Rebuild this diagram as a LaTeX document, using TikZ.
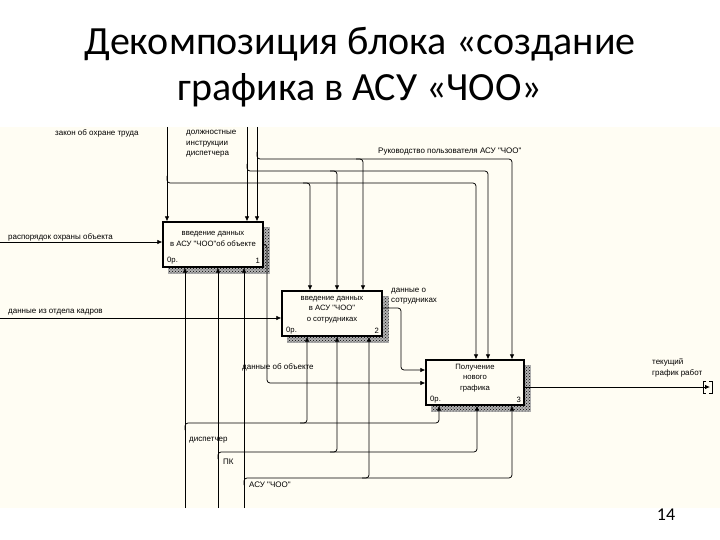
\documentclass[tikz,border=0pt]{standalone}
\usepackage{fontspec}
\setmainfont{Carlito}
\newfontfamily\lab{Liberation Sans}
\usetikzlibrary{arrows.meta,patterns,backgrounds}
\definecolor{cream}{RGB}{255,253,243}
\begin{document}
\begin{tikzpicture}[x=1pt,y=-1pt,
  box/.style={draw,line width=1.3pt,fill=cream,minimum width=100pt,minimum height=45pt,inner sep=0pt},
  conn/.style={line width=0.75pt,rounded corners=3pt,-{Latex[length=5pt,width=4.5pt]}},
  brk/.style={line width=0.7pt},
  lbl/.style={font=\fontsize{8}{10.5}\selectfont\lab,inner sep=0pt,anchor=west,align=left},
  btxt/.style={font=\fontsize{7.7}{10.5}\selectfont\lab,inner sep=0pt,align=center},
  shadfill/.style={fill=black!30},
  shad/.style={pattern=crosshatch dots,pattern color=black},
  ttl/.style={font=\fontsize{40}{44}\selectfont,inner sep=0pt,anchor=base},
]
\useasboundingbox (0,0) rectangle (720,540);

% boxes
\node[box] (b1) at (213,244.5) {};
\node[box] (b2) at (332,313.5) {};
\node[box,minimum width=98pt] (b3) at (475,382.5) {};

\begin{scope}[on background layer]
  \fill[white] (0,0) rectangle (720,540);
  \fill[cream] (0,127) rectangle (720,508);
  \foreach \b in {b1,b2,b3}{
    \fill[shadfill] ([shift={(6,6)}]\b.north west) rectangle ([shift={(6,6)}]\b.south east);
    \fill[shad] ([shift={(6,6)}]\b.north west) rectangle ([shift={(6,6)}]\b.south east);
  }
\end{scope}

% title
\node[ttl] (t1) at (360,55) {Декомпозиция блока «создание};
\node[ttl] (t2) at (360,101) {графика в АСУ «ЧОО»};
\node[font=\fontsize{18}{20}\selectfont,inner sep=0pt,anchor=base] (pg) at (666,520) {14};

% box texts
\node[btxt] (b1t) at (213,239) {введение данных\\в АСУ "ЧОО"об объекте};
\node[btxt,anchor=west] (b1a) at (167,261) {0р.};
\node[btxt,anchor=east] (b1n) at (260,261) {1};
\node[btxt] (b2t) at (332,309.5) {введение данных\\в АСУ "ЧОО"\\о сотрудниках};
\node[btxt,anchor=west] (b2a) at (286,331) {0р.};
\node[btxt,anchor=east] (b2n) at (379,331) {2};
\node[btxt] (b3t) at (475,378) {Получение\\нового\\графика};
\node[btxt,anchor=west] (b3a) at (430,400) {0р.};
\node[btxt,anchor=east] (b3n) at (521,400) {3};

% controls
\coordinate (cz) at (167,127);
\coordinate (cd) at (247,127);
\coordinate (cr) at (257,127);
\draw[conn] (cz) -- (cz |- b1.north);
\draw[conn] (cd) -- (cd |- b1.north);
\draw[conn] (cr) -- (cr |- b1.north);
\draw[conn] (167,176) -- (167,183) -- (476,183) -- (476,0 |- b3.north);
\draw[conn] (303,183) -- (310,183) -- (310,0 |- b2.north);
\draw[conn] (247,164) -- (247,171) -- (488,171) -- (488,0 |- b3.north);
\draw[conn] (330,171) -- (337,171) -- (337,0 |- b2.north);
\draw[conn] (257,152) -- (257,159) -- (512,159) -- (512,0 |- b3.north);
\draw[conn] (356,159) -- (363,159) -- (363,0 |- b2.north);

% inputs
\coordinate (ir) at (0,242);
\coordinate (ik) at (0,318);
\draw[conn] (ir) -- (ir -| b1.west);
\draw[conn] (ik) -- (ik -| b2.west);

% mechanisms
\coordinate (md) at (185,508);
\coordinate (mp) at (218,508);
\coordinate (ma) at (244,508);
\draw[conn] (md) -- (md |- b1.south);
\draw[conn] (mp) -- (mp |- b1.south);
\draw[conn] (ma) -- (ma |- b1.south);
\draw[conn] (185,430) -- (185,423) -- (439,423) -- (439,0 |- b3.south);
\draw[conn] (300,423) -- (307,423) -- (307,0 |- b2.south);
\draw[conn] (218,459) -- (218,452) -- (477,452) -- (477,0 |- b3.south);
\draw[conn] (330,452) -- (337,452) -- (337,0 |- b2.south);
\draw[conn] (244,485) -- (244,478) -- (512,478) -- (512,0 |- b3.south);
\draw[conn] (362,478) -- (369,478) -- (369,0 |- b2.south);

% outputs
\draw[conn] (b1.east) -- (267,244.5) -- (267,383) -- (b3.west |- 0,383);
\draw[conn] (b2.east |- 0,308) -- (401,308) -- (401,370) -- (b3.west |- 0,370);
\coordinate (out) at (710,387);
\draw[conn] (b3.east |- 0,387) -- (out);
\draw[brk] (706,381) -- (703,381) -- (703,393) -- (706,393);
\draw[brk] (709,381) -- (712,381) -- (712,393) -- (709,393);

% labels
\node[lbl] (lz) at (55,133) {закон об охране труда};
\node[lbl] (ld) at (186,144) {должностные\\инструкции\\диспетчера};
\node[lbl] (lr) at (378,152) {Руководство пользователя АСУ "ЧОО"};
\node[lbl] (lo) at (8,237) {распорядок охраны объекта};
\node[lbl] (lk) at (8,312) {данные из отдела кадров};
\node[lbl] (ls) at (391,296) {данные о\\сотрудниках};
\node[lbl] (lob) at (242,367) {данные об объекте};
\node[lbl] (lg) at (652,368) {текущий\\график работ};
\node[lbl] (ldi) at (189,440) {диспетчер};
\node[lbl] (lpk) at (223,462) {ПК};
\node[lbl] (la) at (249,485) {АСУ "ЧОО"};
\end{tikzpicture}
\end{document}
